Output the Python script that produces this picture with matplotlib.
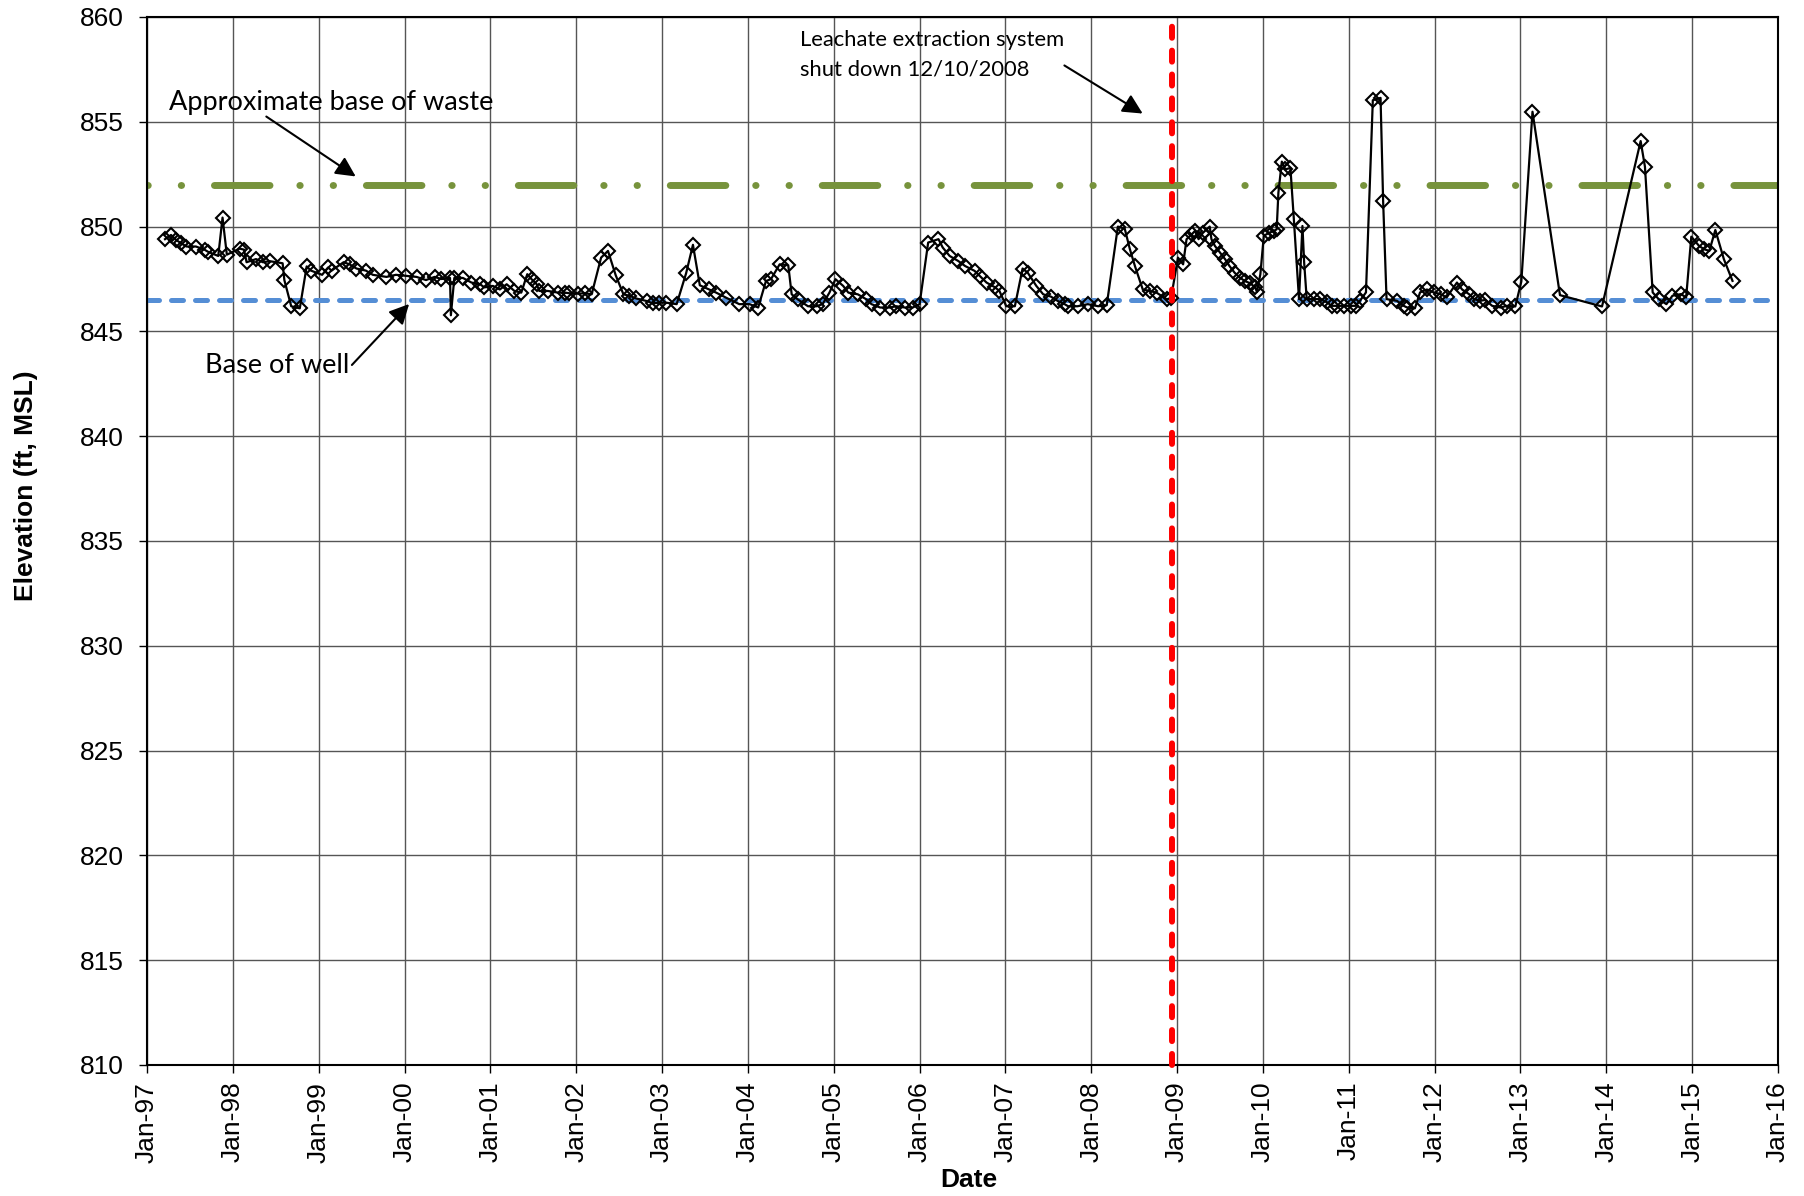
import matplotlib
matplotlib.use("Agg")
import matplotlib.pyplot as plt
import numpy as np

# ---- data (decimal year, elevation ft MSL) ----
dates = [1997.21, 1997.28, 1997.34, 1997.40, 1997.46, 1997.57, 1997.67, 1997.71, 1997.83, 1997.88,
         1997.93, 1998.08, 1998.13, 1998.16, 1998.27, 1998.35, 1998.43, 1998.58, 1998.60, 1998.68,
         1998.78, 1998.86, 1998.91, 1999.04, 1999.11, 1999.15, 1999.29, 1999.36, 1999.44, 1999.55,
         1999.63, 1999.79, 1999.90, 2000.02, 2000.14, 2000.25, 2000.35, 2000.43, 2000.53, 2000.54,
         2000.58, 2000.68, 2000.78, 2000.88, 2000.93, 2001.03, 2001.11, 2001.19, 2001.28, 2001.36,
         2001.43, 2001.48, 2001.54, 2001.57, 2001.67, 2001.79, 2001.87, 2001.92, 2002.02, 2002.10,
         2002.18, 2002.29, 2002.37, 2002.46, 2002.55, 2002.62, 2002.70, 2002.82, 2002.89, 2002.97,
         2003.05, 2003.17, 2003.28, 2003.36, 2003.44, 2003.55, 2003.63, 2003.75, 2003.90, 2004.02,
         2004.12, 2004.21, 2004.27, 2004.37, 2004.47, 2004.51, 2004.58, 2004.70, 2004.80, 2004.87,
         2004.95, 2005.02, 2005.11, 2005.17, 2005.28, 2005.38, 2005.44, 2005.54, 2005.65, 2005.73,
         2005.83, 2005.92, 2006.00, 2006.10, 2006.22, 2006.27, 2006.35, 2006.45, 2006.53, 2006.64,
         2006.70, 2006.78, 2006.88, 2006.93, 2007.01, 2007.11, 2007.20, 2007.26, 2007.36, 2007.44,
         2007.53, 2007.61, 2007.69, 2007.73, 2007.84, 2007.96, 2008.08, 2008.18, 2008.31, 2008.39,
         2008.45, 2008.51, 2008.60, 2008.68, 2008.76, 2008.88, 2008.93, 2009.01, 2009.07, 2009.11,
         2009.17, 2009.21, 2009.25, 2009.30, 2009.38, 2009.40, 2009.44, 2009.50, 2009.56, 2009.61,
         2009.67, 2009.73, 2009.79, 2009.85, 2009.91, 2009.93, 2009.97, 2010.01, 2010.07, 2010.13,
         2010.16, 2010.18, 2010.22, 2010.26, 2010.32, 2010.36, 2010.42, 2010.46, 2010.48, 2010.51,
         2010.59, 2010.67, 2010.75, 2010.80, 2010.86, 2010.94, 2011.02, 2011.08, 2011.13, 2011.20,
         2011.28, 2011.37, 2011.40, 2011.44, 2011.56, 2011.64, 2011.68, 2011.77, 2011.83, 2011.91,
         2011.99, 2012.07, 2012.14, 2012.26, 2012.32, 2012.40, 2012.46, 2012.53, 2012.59, 2012.67,
         2012.77, 2012.84, 2012.94, 2013.01, 2013.14, 2013.46, 2013.95, 2014.40, 2014.45, 2014.54,
         2014.61, 2014.70, 2014.77, 2014.87, 2014.93, 2014.99, 2015.08, 2015.14, 2015.20, 2015.27,
         2015.37, 2015.47]
elevation = [849.40, 849.60, 849.36, 849.20, 849.05, 849.05, 848.90, 848.80, 848.60, 850.43,
             848.66, 848.95, 848.90, 848.30, 848.45, 848.30, 848.35, 848.25, 847.45, 846.20,
             846.10, 848.10, 847.90, 847.70, 848.05, 847.90, 848.30, 848.20, 848.00, 847.90,
             847.70, 847.60, 847.70, 847.65, 847.60, 847.45, 847.60, 847.50, 847.55, 845.77,
             847.55, 847.55, 847.33, 847.25, 847.10, 847.17, 847.00, 847.25, 846.93, 846.85,
             847.73, 847.49, 847.25, 846.93, 846.93, 846.85, 846.85, 846.82, 846.80, 846.82,
             846.77, 848.52, 848.84, 847.68, 846.77, 846.70, 846.57, 846.45, 846.34, 846.37,
             846.37, 846.30, 847.77, 849.13, 847.20, 847.00, 846.85, 846.60, 846.30, 846.30,
             846.14, 847.40, 847.50, 848.20, 848.16, 846.77, 846.53, 846.20, 846.20, 846.30,
             846.85, 847.49, 847.17, 846.85, 846.77, 846.53, 846.30, 846.14, 846.14, 846.20,
             846.14, 846.14, 846.30, 849.24, 849.40, 849.00, 848.60, 848.36, 848.12, 847.89,
             847.65, 847.33, 847.10, 846.93, 846.20, 846.20, 848.00, 847.80, 847.17, 846.77,
             846.66, 846.45, 846.30, 846.20, 846.20, 846.30, 846.20, 846.25, 850.00, 849.90,
             848.92, 848.10, 847.00, 846.93, 846.85, 846.53, 846.60, 848.52, 848.20, 849.40,
             849.63, 849.80, 849.40, 849.70, 850.00, 849.40, 849.08, 848.76, 848.44, 848.12,
             847.80, 847.57, 847.40, 847.30, 847.10, 846.88, 847.73, 849.56, 849.70, 849.80,
             849.87, 851.62, 853.10, 852.73, 852.80, 850.35, 846.54, 850.03, 848.29, 846.54,
             846.54, 846.54, 846.38, 846.22, 846.22, 846.22, 846.22, 846.22, 846.46, 846.86,
             856.03, 856.14, 851.22, 846.54, 846.46, 846.22, 846.14, 846.10, 846.86, 847.00,
             846.86, 846.78, 846.62, 847.33, 847.00, 846.78, 846.54, 846.46, 846.50, 846.22,
             846.14, 846.22, 846.19, 847.38, 855.48, 846.73, 846.19, 854.08, 852.86, 846.86,
             846.54, 846.30, 846.70, 846.78, 846.62, 849.52, 849.08, 848.92, 848.84, 849.84,
             848.44, 847.41]

base_of_waste = 852.0
base_of_well = 846.5
shutdown_date = 2008.94  # 12/10/2008

year_ticks = list(range(1997, 2017))
x_tick_labels = ['Jan-97', 'Jan-98', 'Jan-99', 'Jan-00', 'Jan-01', 'Jan-02', 'Jan-03', 'Jan-04',
                 'Jan-05', 'Jan-06', 'Jan-07', 'Jan-08', 'Jan-09', 'Jan-10', 'Jan-11', 'Jan-12',
                 'Jan-13', 'Jan-14', 'Jan-15', 'Jan-16']
y_ticks = [810, 815, 820, 825, 830, 835, 840, 845, 850, 855, 860]

# ---- figure ----
W, H = 1804, 1196
AX_L, AX_R, AX_T, AX_B = 147, 1778, 17, 1065
fig = plt.figure(figsize=(W / 100, H / 100), dpi=100)
ax = fig.add_axes([AX_L / W, 1 - AX_B / H, (AX_R - AX_L) / W, (AX_B - AX_T) / H])

ax.set_xlim(1997, 2016)
ax.set_ylim(810, 860)
ax.set_xticks(year_ticks)
ax.set_xticklabels(x_tick_labels, rotation=90, fontsize=19, family='Liberation Sans')
ax.set_yticks(y_ticks)
ax.set_yticklabels([str(v) for v in y_ticks], fontsize=19, family='Liberation Sans')
ax.tick_params(axis='x', direction='out', length=6, width=1, pad=6)
ax.tick_params(axis='y', direction='out', length=6, width=1, pad=11)
ax.grid(True, color='#555555', linewidth=1.0)
ax.set_axisbelow(True)
for s in ax.spines.values():
    s.set_linewidth(1.5)
    s.set_color('black')

# base of well (blue dashed)
ax.plot([1997, 2016], [base_of_well, base_of_well], color='#558ED5', linewidth=3.6,
        linestyle=(0, (2.4, 2.4)), dash_capstyle='round', zorder=2)
# base of waste (green long-dash dot dot)
ax.plot([1997, 2016], [base_of_waste, base_of_waste], color='#77933C', linewidth=5,
        linestyle=(12.24, (8.0, 4.3, 0.05, 4.75, 0.05, 4.73)), dash_capstyle='round', zorder=2)

# data
ax.plot(dates, elevation, color='black', linewidth=1.6, marker='D', markersize=7,
        markerfacecolor='none', markeredgecolor='black', markeredgewidth=1.5, zorder=3)

# shutdown red dashed vertical
ax.plot([shutdown_date, shutdown_date], [810, 860], color='#FF0000', linewidth=4.3,
        linestyle=(0, (1.85, 2.15)), dash_capstyle='round', zorder=4, clip_on=False)

ax.set_ylabel('Elevation (ft, MSL)', fontsize=19, fontweight='bold', family='Liberation Sans')
ax.set_xlabel('Date', fontsize=19, fontweight='bold', family='Liberation Sans')
ax.yaxis.set_label_coords((38 - AX_L) / (AX_R - AX_L), 0.553)
ax.xaxis.set_label_coords(0.504, (AX_B - 1168) / (AX_B - AX_T))

# annotations
def px2data(x, y):
    return 1997 + (x - AX_L) / 85.84, 860 - (y - AX_T) / 20.96

ann_font = 'Lato'
tx, ty = px2data(169, 110)
ax.text(tx, ty, 'Approximate base of waste', fontsize=19.5, family=ann_font, va='baseline', ha='left')
ax.annotate('', xy=px2data(358, 178), xytext=px2data(264, 115),
            arrowprops=dict(arrowstyle='-|>', color='black', lw=1.5, mutation_scale=30))

tx, ty = px2data(205, 373)
ax.text(tx, ty, 'Base of well', fontsize=19.5, family=ann_font, va='baseline', ha='left')
ax.annotate('', xy=px2data(411, 302), xytext=px2data(350, 367),
            arrowprops=dict(arrowstyle='-|>', color='black', lw=1.5, mutation_scale=30))

tx, ty = px2data(800, 46)
ax.text(tx, ty, 'Leachate extraction system', fontsize=15.8, family=ann_font, va='baseline', ha='left')
tx, ty = px2data(800, 76)
ax.text(tx, ty, 'shut down 12/10/2008', fontsize=15.8, family=ann_font, va='baseline', ha='left')
ax.annotate('', xy=px2data(1145, 115), xytext=px2data(1062, 64),
            arrowprops=dict(arrowstyle='-|>', color='black', lw=1.5, mutation_scale=30))

fig.savefig('out.png', dpi=100)
